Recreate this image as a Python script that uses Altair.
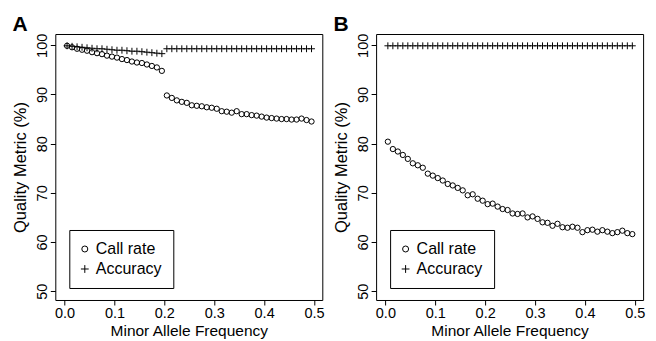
import altair as alt
import pandas as pd

maf = [0.005, 0.015, 0.025, 0.035, 0.045, 0.055, 0.065, 0.075, 0.085, 0.095,
       0.105, 0.115, 0.125, 0.135, 0.145, 0.155, 0.165, 0.175, 0.185, 0.195,
       0.205, 0.215, 0.225, 0.235, 0.245, 0.255, 0.265, 0.275, 0.285, 0.295,
       0.305, 0.315, 0.325, 0.335, 0.345, 0.355, 0.365, 0.375, 0.385, 0.395,
       0.405, 0.415, 0.425, 0.435, 0.445, 0.455, 0.465, 0.475, 0.485, 0.495]

call_a = [99.9, 99.6, 99.3, 99.1, 98.9, 98.6, 98.4, 98.2, 97.9, 97.7,
          97.5, 97.2, 97.0, 96.7, 96.5, 96.4, 96.1, 95.8, 95.5, 94.8,
          89.8, 89.3, 88.8, 88.5, 88.3, 87.8, 87.7, 87.6, 87.4, 87.3,
          87.1, 86.6, 86.5, 86.3, 86.6, 86.0, 86.0, 85.8, 85.7, 85.5,
          85.3, 85.2, 85.1, 85.0, 85.0, 84.9, 84.9, 85.1, 84.8, 84.5]

acc_a = [99.9, 99.8, 99.7, 99.6, 99.5, 99.4, 99.3, 99.3, 99.2, 99.1,
         99.0, 99.0, 98.9, 98.8, 98.8, 98.7, 98.6, 98.5, 98.4, 98.3,
         99.3, 99.3, 99.3, 99.3, 99.3, 99.3, 99.3, 99.3, 99.3, 99.3,
         99.3, 99.3, 99.3, 99.3, 99.3, 99.3, 99.3, 99.3, 99.3, 99.3,
         99.3, 99.3, 99.3, 99.3, 99.3, 99.3, 99.3, 99.3, 99.3, 99.3]

call_b = [80.4, 78.9, 78.4, 77.7, 76.9, 76.0, 75.6, 75.1, 73.9, 73.5,
          73.0, 72.5, 71.8, 71.5, 71.0, 70.5, 69.5, 69.7, 68.8, 68.4,
          67.7, 67.8, 67.2, 66.7, 66.5, 65.8, 65.7, 65.8, 65.0, 65.2,
          64.7, 64.0, 63.9, 63.3, 63.7, 63.0, 62.9, 63.1, 62.9, 62.0,
          62.4, 62.5, 62.1, 62.4, 62.1, 61.8, 62.0, 62.3, 61.8, 61.6]

acc_b = [99.9, 99.9, 99.9, 99.9, 99.9, 99.9, 99.9, 99.9, 99.9, 99.9,
         99.9, 99.9, 99.9, 99.9, 99.9, 99.9, 99.9, 99.9, 99.9, 99.9,
         99.9, 99.9, 99.9, 99.9, 99.9, 99.9, 99.9, 99.9, 99.9, 99.9,
         99.9, 99.9, 99.9, 99.9, 99.9, 99.9, 99.9, 99.9, 99.9, 99.9,
         99.9, 99.9, 99.9, 99.9, 99.9, 99.9, 99.9, 99.9, 99.9, 99.9]

metrics = ["Call rate", "Accuracy"]
x_ticks = [0.0, 0.1, 0.2, 0.3, 0.4, 0.5]
y_ticks = [50, 60, 70, 80, 90, 100]

FONT = "Liberation Sans"
CROSS = "M-1.3,0H1.3M0,-1.3V1.3"


def make_df(call, acc):
    rows = []
    for xv, cv in zip(maf, call):
        rows.append({"maf": xv, "value": cv, "metric": metrics[0]})
    for xv, av in zip(maf, acc):
        rows.append({"maf": xv, "value": av, "metric": metrics[1]})
    return pd.DataFrame(rows)


def panel(call, acc, label):
    df = make_df(call, acc)
    return alt.Chart(df).mark_point(
        filled=False, color="black", strokeWidth=1, size=28, opacity=1
    ).encode(
        x=alt.X("maf:Q",
                scale=alt.Scale(domain=[-0.0186, 0.5166], nice=False, zero=False),
                axis=alt.Axis(title="Minor Allele Frequency", values=x_ticks,
                              format=".1f", titleFontSize=15.5)),
        y=alt.Y("value:Q",
                scale=alt.Scale(domain=[48.2, 102.3], nice=False, zero=False),
                axis=alt.Axis(title="Quality Metric (%)", values=y_ticks,
                              labelAngle=270, titleFontSize=16.5)),
        shape=alt.Shape("metric:N",
                        scale=alt.Scale(domain=metrics, range=["circle", CROSS]),
                        legend=alt.Legend(title=None, orient="none",
                                          legendX=14, legendY=196,
                                          strokeColor="black", padding=11,
                                          symbolOffset=-3.5, labelOffset=3,
                                          symbolSize=36, rowPadding=4,
                                          labelFontSize=16, labelFont=FONT,
                                          labelColor="black",
                                          symbolStrokeColor="black",
                                          symbolStrokeWidth=1)),
    ).properties(
        width=267, height=266,
        title=alt.TitleParams(label, anchor="start", frame="bounds",
                              fontSize=21, fontWeight="bold", font=FONT,
                              baseline="alphabetic", offset=-19, color="black"),
    )


a = panel(call_a, acc_a, "A")
b = panel(call_b, acc_b, "B")

chart = alt.hconcat(a, b, spacing=6.8).resolve_scale(shape="independent").properties(
    padding={"left": 11.3, "top": 13, "right": 0, "bottom": 0}
).configure_view(
    stroke="black", strokeWidth=1
).configure_axis(
    grid=False, domain=False, tickColor="black", tickSize=5, tickWidth=1,
    labelFont=FONT, titleFont=FONT, labelFontSize=14.5,
    labelColor="black", titleColor="black", titleFontWeight="normal"
).configure_axisX(
    labelPadding=2, titlePadding=3
).configure_axisY(
    labelPadding=1, titlePadding=5.7
)

chart.save("out.html", embed_options={"renderer": "svg", "actions": False})
